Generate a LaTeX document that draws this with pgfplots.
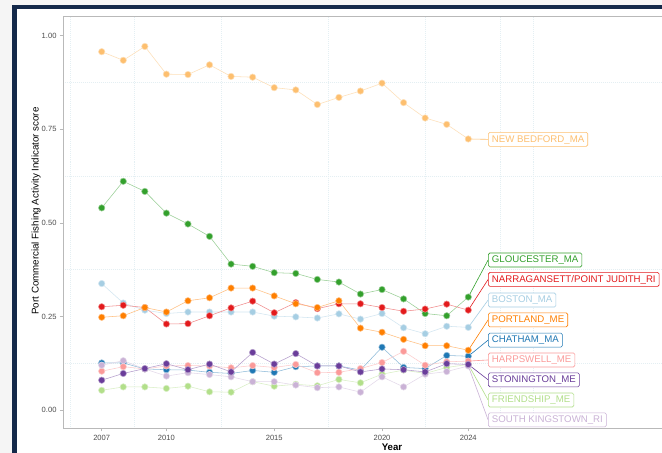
\documentclass[border=0pt]{standalone}
\usepackage{pgfplots}
\pgfplotsset{compat=1.18}
\usepackage{pgfplotstable}
\usepackage{fontspec}
\setmainfont{Liberation Sans}
\definecolor{cBOS}{HTML}{A6CEE3}
\definecolor{cCHA}{HTML}{1F78B4}
\definecolor{cFRI}{HTML}{B2DF8A}
\definecolor{cGLO}{HTML}{33A02C}
\definecolor{cHAR}{HTML}{FB9A99}
\definecolor{cNAR}{HTML}{E31A1C}
\definecolor{cNEW}{HTML}{FDBF6F}
\definecolor{cPOR}{HTML}{FF7F00}
\definecolor{cSKI}{HTML}{CAB2D6}
\definecolor{cSTO}{HTML}{6A3D9A}
\definecolor{navy}{HTML}{14294A}
\definecolor{gridc}{HTML}{E4EFF3}
\definecolor{tickc}{HTML}{4D4D4D}

\pgfplotstableread{
year BOS CHA FRI GLO HAR NAR NEW POR SKI STO
2007 0.338 0.126 0.053 0.540 0.104 0.276 0.957 0.248 0.120 0.080
2008 0.286 0.126 0.062 0.611 0.116 0.280 0.934 0.252 0.132 0.098
2009 0.267 0.110 0.062 0.584 0.110 0.274 0.971 0.274 0.110 0.111
2010 0.258 0.108 0.058 0.526 0.118 0.230 0.897 0.262 0.091 0.124
2011 0.262 0.107 0.064 0.497 0.119 0.231 0.896 0.292 0.100 0.108
2012 0.262 0.101 0.049 0.464 0.118 0.252 0.922 0.300 0.095 0.123
2013 0.262 0.098 0.048 0.390 0.113 0.273 0.891 0.326 0.089 0.102
2014 0.262 0.106 0.076 0.384 0.119 0.291 0.889 0.326 0.076 0.154
2015 0.251 0.101 0.064 0.367 0.114 0.260 0.861 0.305 0.076 0.123
2016 0.249 0.116 0.069 0.365 0.122 0.287 0.855 0.284 0.067 0.151
2017 0.246 0.118 0.065 0.349 0.100 0.271 0.816 0.274 0.060 0.118
2018 0.257 0.118 0.082 0.342 0.101 0.284 0.835 0.292 0.062 0.118
2019 0.243 0.107 0.073 0.310 0.111 0.284 0.852 0.219 0.048 0.102
2020 0.258 0.168 0.096 0.322 0.127 0.274 0.873 0.208 0.089 0.110
2021 0.220 0.114 0.107 0.297 0.157 0.264 0.821 0.189 0.062 0.108
2022 0.204 0.111 0.098 0.258 0.120 0.270 0.780 0.172 0.096 0.102
2023 0.224 0.146 0.114 0.252 0.129 0.283 0.763 0.172 0.103 0.124
2024 0.221 0.144 0.122 0.302 0.131 0.267 0.724 0.160 0.118 0.122
}\datatable

\pgfplotsset{
  ser/.style={color=#1!50!white, line width=0.55pt, mark=*, mark size=3.2bp,
    mark options={draw=none, fill=#1}},
  lead/.style={color=#1, line width=0.6pt, mark=none, forget plot},
}
\tikzset{
  lab/.style={anchor=west, draw=#1, text=#1, fill=white, rounded corners=1.5bp,
    line width=0.6pt, inner xsep=3.5bp, inner ysep=2.5bp, text height=7.2bp, text depth=1.8bp,
    font=\fontsize{9.7}{11}\selectfont},
}

\begin{document}
\begin{tikzpicture}
\useasboundingbox (0,0) rectangle (662bp,453bp);
\fill[white] (0,0) rectangle (662bp,453bp);
\fill[black!4] (0,0) rectangle (12bp,453bp);
\fill[black!4] (0,448bp) rectangle (662bp,453bp);
\begin{axis}[
  scale only axis, width=658bp, height=412bp,
  at={(63bp,24.5bp)}, anchor=south west,
  xmin=2005.205, xmax=2035.72, ymin=-0.049, ymax=1.051,
  xtick={2007,2010,2015,2020,2024},
  ytick={0,0.25,0.5,0.75,1},
  x tick label style={/pgf/number format/1000 sep={}},
  y tick label style={/pgf/number format/.cd, fixed, fixed zerofill, precision=2, /tikz/.cd},
  /pgf/number format/assume math mode=true,
  tick label style={font=\fontsize{7.6}{9}\selectfont, text=tickc},
  axis line style={draw=gray!55, line width=0.6pt},
  tick style={draw=gray!55, line width=0.6pt},
  tick align=outside, major tick length=3bp,
  xtick pos=bottom, ytick pos=left,
  minor xtick={2005.53,2008.5,2012.53,2017.5,2022,2025.5,2027},
  minor ytick={0.125,0.375,0.625,0.875},
  minor tick length=0pt,
  xminorgrids, yminorgrids,
  minor grid style={draw=gridc, line width=0.5pt, dash pattern=on 1pt off 1pt},
  xlabel={Year},
  ylabel={Port Commercial Fishing Activity Indicator score},
  xlabel style={font=\fontsize{9.7}{11}\selectfont\bfseries, at={(axis description cs:0.5,0)}, anchor=center, yshift=-18.5bp},
  ylabel style={font=\fontsize{9.8}{11}\selectfont, at={(axis description cs:-0.041,0.528)}, anchor=center},
  clip=false,
]
\addplot[ser=cBOS] table[x=year, y=BOS] {\datatable};
\addplot[ser=cCHA] table[x=year, y=CHA] {\datatable};
\addplot[ser=cFRI] table[x=year, y=FRI] {\datatable};
\addplot[ser=cGLO] table[x=year, y=GLO] {\datatable};
\addplot[ser=cHAR] table[x=year, y=HAR] {\datatable};
\addplot[ser=cNAR] table[x=year, y=NAR] {\datatable};
\addplot[ser=cNEW] table[x=year, y=NEW] {\datatable};
\addplot[ser=cPOR] table[x=year, y=POR] {\datatable};
\addplot[ser=cSKI] table[x=year, y=SKI] {\datatable};
\addplot[ser=cSTO] table[x=year, y=STO] {\datatable};

\addplot[lead=cNEW] coordinates {(2024,0.724) (2024.92,0.723)};
\addplot[lead=cGLO] coordinates {(2024,0.302) (2024.92,0.401)};
\addplot[lead=cNAR] coordinates {(2024,0.267) (2024.92,0.349)};
\addplot[lead=cBOS] coordinates {(2024,0.221) (2024.92,0.294)};
\addplot[lead=cPOR] coordinates {(2024,0.160) (2024.92,0.241)};
\addplot[lead=cCHA] coordinates {(2024,0.144) (2024.92,0.187)};
\addplot[lead=cHAR] coordinates {(2024,0.131) (2024.92,0.134)};
\addplot[lead=cSTO] coordinates {(2024,0.122) (2024.92,0.081)};
\addplot[lead=cFRI] coordinates {(2024,0.122) (2024.92,0.027)};
\addplot[lead=cSKI] coordinates {(2024,0.118) (2024.92,-0.026)};

\node[lab=cNEW] at (axis cs:2024.92,0.723) {NEW BEDFORD\_MA};
\node[lab=cGLO] at (axis cs:2024.92,0.401) {GLOUCESTER\_MA};
\node[lab=cNAR] at (axis cs:2024.92,0.349) {NARRAGANSETT/POINT JUDITH\_RI};
\node[lab=cBOS] at (axis cs:2024.92,0.294) {BOSTON\_MA};
\node[lab=cPOR] at (axis cs:2024.92,0.241) {PORTLAND\_ME};
\node[lab=cCHA] at (axis cs:2024.92,0.187) {CHATHAM\_MA};
\node[lab=cHAR] at (axis cs:2024.92,0.134) {HARPSWELL\_ME};
\node[lab=cSTO] at (axis cs:2024.92,0.081) {STONINGTON\_ME};
\node[lab=cFRI] at (axis cs:2024.92,0.027) {FRIENDSHIP\_ME};
\node[lab=cSKI] at (axis cs:2024.92,-0.026) {SOUTH KINGSTOWN\_RI};
\end{axis}
\fill[navy] (12bp,0) rectangle (16.5bp,448bp);
\fill[navy] (12bp,443.5bp) rectangle (662bp,448bp);
\end{tikzpicture}
\end{document}
